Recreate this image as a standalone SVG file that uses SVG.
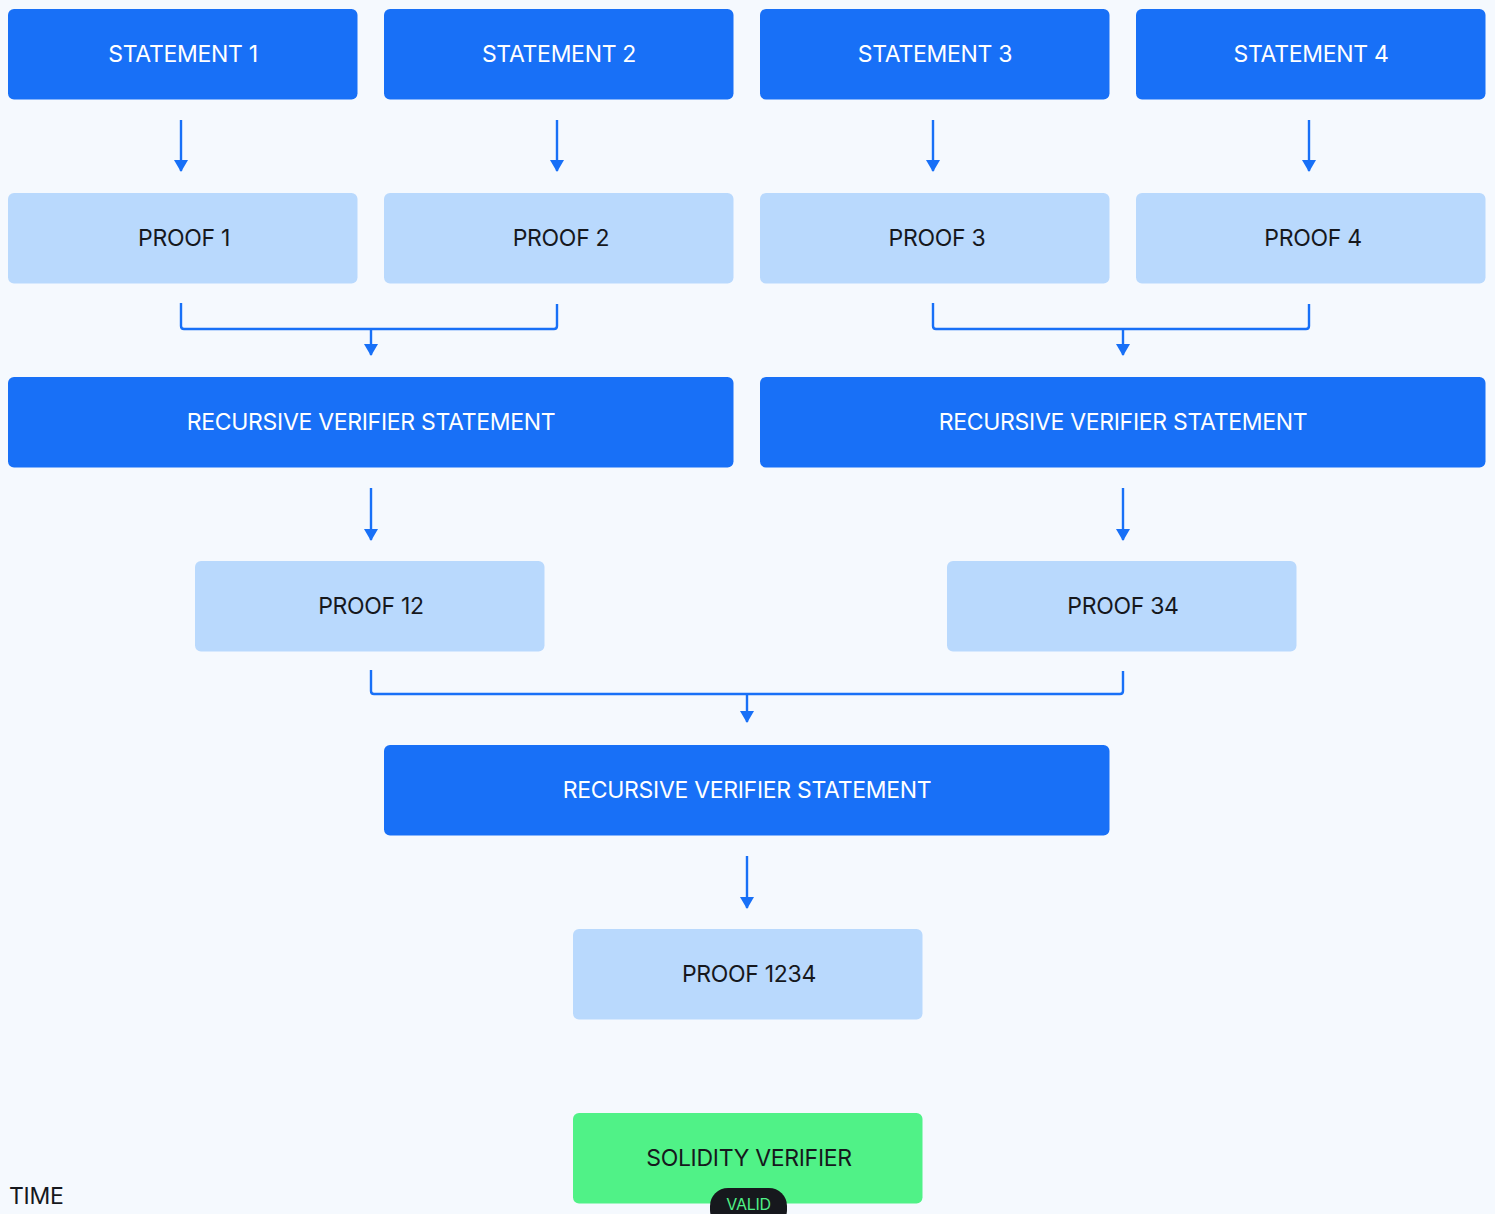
<svg xmlns="http://www.w3.org/2000/svg" width="1495" height="1214" viewBox="0 0 1495 1214">
<defs>
<style>
.stmt{fill:#1870F7}
.proof{fill:#B9D9FD}
.wt{fill:#FFFFFF;font-family:Inter,"Liberation Sans",sans-serif;font-size:23px;font-weight:400;text-anchor:middle;dominant-baseline:central;letter-spacing:-0.3px}
.dt{fill:#16181D;font-family:Inter,"Liberation Sans",sans-serif;font-size:23px;font-weight:400;text-anchor:middle;dominant-baseline:central;letter-spacing:-0.3px}
.ln{fill:none;stroke:#1870F7;stroke-width:2.4;stroke-linejoin:round}
</style>
<marker id="ah" viewBox="0 0 12 14" refX="11" refY="7" markerWidth="12" markerHeight="14" markerUnits="userSpaceOnUse" orient="auto">
<path d="M0,0 L12,7 L0,14 Z" fill="#1870F7"/>
</marker>
</defs>
<rect width="1495" height="1214" fill="#F5F9FE"/>

<g id="statement1"><rect class="stmt" x="8" y="9" width="349.5" height="90.5" rx="6"/><text class="wt" x="183" y="54">STATEMENT 1</text></g>
<g id="statement2"><rect class="stmt" x="384" y="9" width="349.5" height="90.5" rx="6"/><text class="wt" x="559" y="54">STATEMENT 2</text></g>
<g id="statement3"><rect class="stmt" x="760" y="9" width="349.5" height="90.5" rx="6"/><text class="wt" x="935" y="54">STATEMENT 3</text></g>
<g id="statement4"><rect class="stmt" x="1136" y="9" width="349.5" height="90.5" rx="6"/><text class="wt" x="1311" y="54">STATEMENT 4</text></g>

<g id="proof1"><rect class="proof" x="8" y="193" width="349.5" height="90.5" rx="6"/><text class="dt" x="184" y="238">PROOF 1</text></g>
<g id="proof2"><rect class="proof" x="384" y="193" width="349.5" height="90.5" rx="6"/><text class="dt" x="561" y="238">PROOF 2</text></g>
<g id="proof3"><rect class="proof" x="760" y="193" width="349.5" height="90.5" rx="6"/><text class="dt" x="937" y="238">PROOF 3</text></g>
<g id="proof4"><rect class="proof" x="1136" y="193" width="349.5" height="90.5" rx="6"/><text class="dt" x="1313" y="238">PROOF 4</text></g>

<g id="rvs1"><rect class="stmt" x="8" y="377" width="725.5" height="90.5" rx="6"/><text class="wt" x="371" y="422">RECURSIVE VERIFIER STATEMENT</text></g>
<g id="rvs2"><rect class="stmt" x="760" y="377" width="725.5" height="90.5" rx="6"/><text class="wt" x="1123" y="422">RECURSIVE VERIFIER STATEMENT</text></g>

<g id="proof12"><rect class="proof" x="195" y="561" width="349.5" height="90.5" rx="6"/><text class="dt" x="371" y="606">PROOF 12</text></g>
<g id="proof34"><rect class="proof" x="947" y="561" width="349.5" height="90.5" rx="6"/><text class="dt" x="1123" y="606">PROOF 34</text></g>

<g id="rvs3"><rect class="stmt" x="384" y="745" width="725.5" height="90.5" rx="6"/><text class="wt" x="747" y="790">RECURSIVE VERIFIER STATEMENT</text></g>

<g id="proof1234"><rect class="proof" x="573" y="929" width="349.5" height="90.5" rx="6"/><text class="dt" x="749" y="974">PROOF 1234</text></g>

<g id="solidity"><rect x="573" y="1113" width="349.5" height="90.5" rx="6" fill="#50F287"/><text class="dt" x="749" y="1158">SOLIDITY VERIFIER</text>
<rect x="710" y="1188" width="77" height="40" rx="18" fill="#16181D"/><text x="748.5" y="1204" font-family="Inter,'Liberation Sans',sans-serif" font-size="16" fill="#50F287" text-anchor="middle" dominant-baseline="central" letter-spacing="-0.3">VALID</text></g>

<g id="time"><text x="9" y="1196" font-family="Inter,'Liberation Sans',sans-serif" font-size="23" fill="#16181D" dominant-baseline="central" letter-spacing="-0.3">TIME</text></g>

<g id="connectors">
<line class="ln" x1="181" y1="120" x2="181" y2="171" marker-end="url(#ah)"/>
<line class="ln" x1="557" y1="120" x2="557" y2="171" marker-end="url(#ah)"/>
<line class="ln" x1="933" y1="120" x2="933" y2="171" marker-end="url(#ah)"/>
<line class="ln" x1="1309" y1="120" x2="1309" y2="171" marker-end="url(#ah)"/>
<path class="ln" d="M181,303 V326 Q181,329 184,329 H554 Q557,329 557,326 V304"/>
<line class="ln" x1="371" y1="329" x2="371" y2="355" marker-end="url(#ah)"/>
<path class="ln" d="M933,303 V326 Q933,329 936,329 H1306 Q1309,329 1309,326 V304"/>
<line class="ln" x1="1123" y1="329" x2="1123" y2="355" marker-end="url(#ah)"/>
<line class="ln" x1="371" y1="488" x2="371" y2="540" marker-end="url(#ah)"/>
<line class="ln" x1="1123" y1="488" x2="1123" y2="540" marker-end="url(#ah)"/>
<path class="ln" d="M371,670 V691 Q371,694 374,694 H1120 Q1123,694 1123,691 V671"/>
<line class="ln" x1="747" y1="694" x2="747" y2="722" marker-end="url(#ah)"/>
<line class="ln" x1="747" y1="856" x2="747" y2="908" marker-end="url(#ah)"/>
</g>
</svg>
